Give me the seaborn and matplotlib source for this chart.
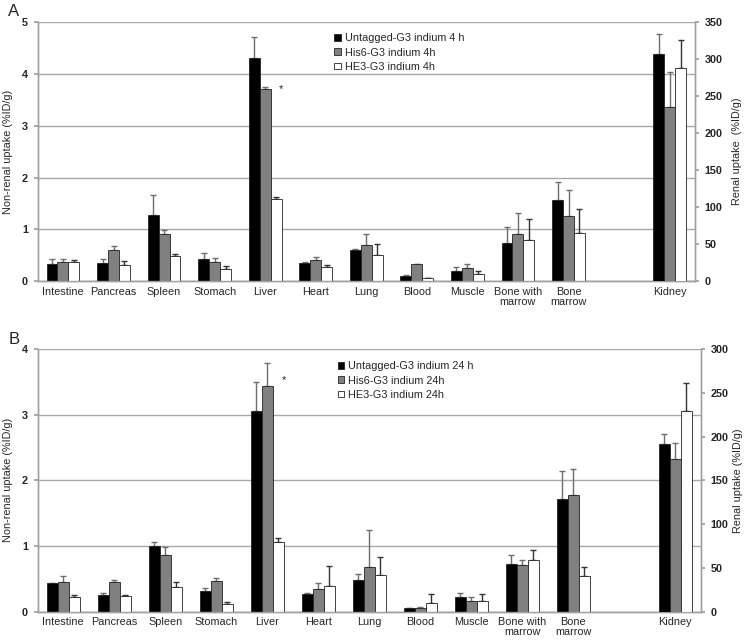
import numpy as np
import pandas as pd
import matplotlib
matplotlib.use("Agg")
import matplotlib.pyplot as plt
from matplotlib.ticker import MultipleLocator
import seaborn as sns

# organs on the non-renal (left) axis, kidney goes on the renal (right) axis
organs = ["Intestine", "Pancreas", "Spleen", "Stomach", "Liver", "Heart", "Lung",
          "Blood", "Muscle", "Bone with\nmarrow", "Bone\nmarrow"]
slot_order = organs + [" ", "Kidney"]

labels_4h = ["Untagged-G3 indium 4 h", "His6-G3 indium 4h", "HE3-G3 indium 4h"]
labels_24h = ["Untagged-G3 indium 24 h", "His6-G3 indium 24h", "HE3-G3 indium 24h"]

# panel A, 4 h (means and upper error)
untagged_4h = [0.32, 0.34, 1.28, 0.42, 4.31, 0.35, 0.59, 0.10, 0.20, 0.73, 1.56]
untagged_4h_err = [0.11, 0.09, 0.38, 0.13, 0.40, 0.02, 0.03, 0.01, 0.07, 0.32, 0.35]
his6_4h = [0.37, 0.60, 0.91, 0.37, 3.71, 0.41, 0.69, 0.32, 0.26, 0.91, 1.25]
his6_4h_err = [0.06, 0.08, 0.08, 0.07, 0.05, 0.06, 0.21, 0.01, 0.07, 0.40, 0.50]
he3_4h = [0.36, 0.30, 0.48, 0.23, 1.58, 0.27, 0.50, 0.05, 0.13, 0.79, 0.92]
he3_4h_err = [0.05, 0.09, 0.04, 0.05, 0.04, 0.04, 0.22, 0.01, 0.07, 0.40, 0.48]
kidney_4h = [307, 236, 288]
kidney_4h_err = [27, 47, 38]

# panel B, 24 h
untagged_24h = [0.43, 0.26, 1.00, 0.32, 3.06, 0.265, 0.48, 0.05, 0.22, 0.72, 1.71]
untagged_24h_err = [0.01, 0.03, 0.06, 0.04, 0.43, 0.02, 0.09, 0.005, 0.07, 0.15, 0.44]
his6_24h = [0.45, 0.45, 0.87, 0.46, 3.44, 0.35, 0.68, 0.06, 0.16, 0.71, 1.77]
his6_24h_err = [0.09, 0.03, 0.11, 0.05, 0.35, 0.08, 0.57, 0.005, 0.06, 0.08, 0.40]
he3_24h = [0.22, 0.245, 0.38, 0.11, 1.06, 0.39, 0.56, 0.13, 0.16, 0.79, 0.54]
he3_24h_err = [0.03, 0.015, 0.07, 0.04, 0.06, 0.31, 0.27, 0.14, 0.11, 0.15, 0.14]
kidney_24h = [192, 174, 229]
kidney_24h_err = [11, 19, 32]

colors = ["#000000", "#808080", "#ffffff"]
err_colors = ["#6e6e6e", "#6e6e6e", "#333333"]

sns.set_theme(style="white")
plt.rcParams["font.family"] = ["Liberation Sans", "DejaVu Sans"]
FS = 7.8


def long_table(names, series, errs, keys):
    rows = []
    for lab, vals, ers in zip(names, series, errs):
        for k, v, e in zip(keys, vals, ers):
            rows.append({"organ": k, "construct": lab, "value": v, "err": e})
    return pd.DataFrame(rows)


def draw_panel(ax, df_organs, df_kidney, names, ymax, rmax, rlabel, rpad, star_xy):
    ax2 = ax.twinx()
    sns.barplot(data=df_organs, x="organ", y="value", hue="construct", order=slot_order,
                hue_order=names, palette=colors, width=0.65, errorbar=None,
                edgecolor="#222222", linewidth=0.6, legend=False, ax=ax, zorder=3)
    sns.barplot(data=df_kidney, x="organ", y="value", hue="construct", order=slot_order,
                hue_order=names, palette=colors, width=0.65, errorbar=None,
                edgecolor="#222222", linewidth=0.6, legend=False, ax=ax2, zorder=3)

    # upper error bars placed on the bars seaborn drew
    for axis, df in [(ax, df_organs), (ax2, df_kidney)]:
        for i, (cont, name) in enumerate(zip(axis.containers, names)):
            errs = df[df["construct"] == name]["err"].to_numpy()
            xs = np.array([p.get_x() + p.get_width() / 2 for p in cont.patches])
            hs = np.array([p.get_height() for p in cont.patches])
            axis.errorbar(xs, hs, yerr=[np.zeros_like(errs), errs], fmt="none",
                          ecolor=err_colors[i], elinewidth=1.0, capsize=2.2,
                          capthick=1.0, zorder=2)

    ax.set_xlim(-0.5, len(slot_order) - 0.5)
    ax.set_ylim(0, ymax)
    ax2.set_ylim(0, rmax)
    ax.yaxis.set_major_locator(MultipleLocator(1))
    ax2.yaxis.set_major_locator(MultipleLocator(50))
    ax.yaxis.grid(True, color="#a8a8a8", linewidth=1.0)
    ax.set_axisbelow(True)

    ax.set_xlabel("")
    ax.set_ylabel("Non-renal uptake (%ID/g)", fontsize=FS, labelpad=6)
    ax2.set_ylabel(rlabel, fontsize=FS, labelpad=rpad)
    ax2.set_xlabel("")

    ax.set_xticks(range(len(slot_order)))
    ax.set_xticklabels(slot_order, fontsize=FS, linespacing=1.0)
    ax.set_xticks(np.arange(-0.5, len(slot_order)), minor=True)
    ax.tick_params(axis="x", which="major", length=0, pad=4)
    ax.tick_params(axis="x", which="minor", length=4, color="#a0a0a0", width=0.8)
    ax.tick_params(axis="y", labelsize=FS, length=3, color="#a0a0a0", pad=4, left=True)
    ax2.tick_params(axis="y", labelsize=FS, length=3, color="#a0a0a0", pad=4, right=True)
    for lab in ax.get_yticklabels() + ax2.get_yticklabels():
        lab.set_fontweight("bold")

    for a in (ax, ax2):
        a.spines["top"].set_visible(False)
        for s in ("left", "right", "bottom"):
            a.spines[s].set_color("#a0a0a0")
            a.spines[s].set_linewidth(1.0)

    ax.text(star_xy[0], star_xy[1], "*", fontsize=8, ha="center", va="center")
    return ax2


fig = plt.figure(figsize=(7.46, 6.40), dpi=100)
ax_a = fig.add_axes([0.0505, 0.561, 0.881, 0.404])
ax_b = fig.add_axes([0.0505, 0.0442, 0.889, 0.4105])

df_a = long_table(labels_4h, [untagged_4h, his6_4h, he3_4h],
                  [untagged_4h_err, his6_4h_err, he3_4h_err], organs)
df_a_k = long_table(labels_4h, [[v] for v in kidney_4h], [[e] for e in kidney_4h_err], ["Kidney"])
df_b = long_table(labels_24h, [untagged_24h, his6_24h, he3_24h],
                  [untagged_24h_err, his6_24h_err, he3_24h_err], organs)
df_b_k = long_table(labels_24h, [[v] for v in kidney_24h], [[e] for e in kidney_24h_err], ["Kidney"])

ax_a2 = draw_panel(ax_a, df_a, df_a_k, labels_4h, 5, 350, "Renal uptake  (%ID/g)", 7, (4.31, 3.72))
ax_b2 = draw_panel(ax_b, df_b, df_b_k, labels_24h, 4, 300, "Renal uptake (%ID/g)", 3, (4.33, 3.52))

ax_a2.legend(ax_a.containers, labels_4h, loc="upper left", bbox_to_anchor=(0.445, 0.975),
             frameon=False, fontsize=FS, handlelength=0.6, handleheight=0.6,
             handletextpad=0.35, labelspacing=0.4, borderaxespad=0)
ax_b2.legend(ax_b.containers, labels_24h, loc="upper left", bbox_to_anchor=(0.446, 0.97),
             frameon=False, fontsize=FS, handlelength=0.6, handleheight=0.6,
             handletextpad=0.35, labelspacing=0.4, borderaxespad=0)

fig.text(0.011, 0.982, "A", fontsize=12, va="center", ha="left")
fig.text(0.011, 0.47, "B", fontsize=12, va="center", ha="left")

fig.savefig("out.png", dpi=100)
